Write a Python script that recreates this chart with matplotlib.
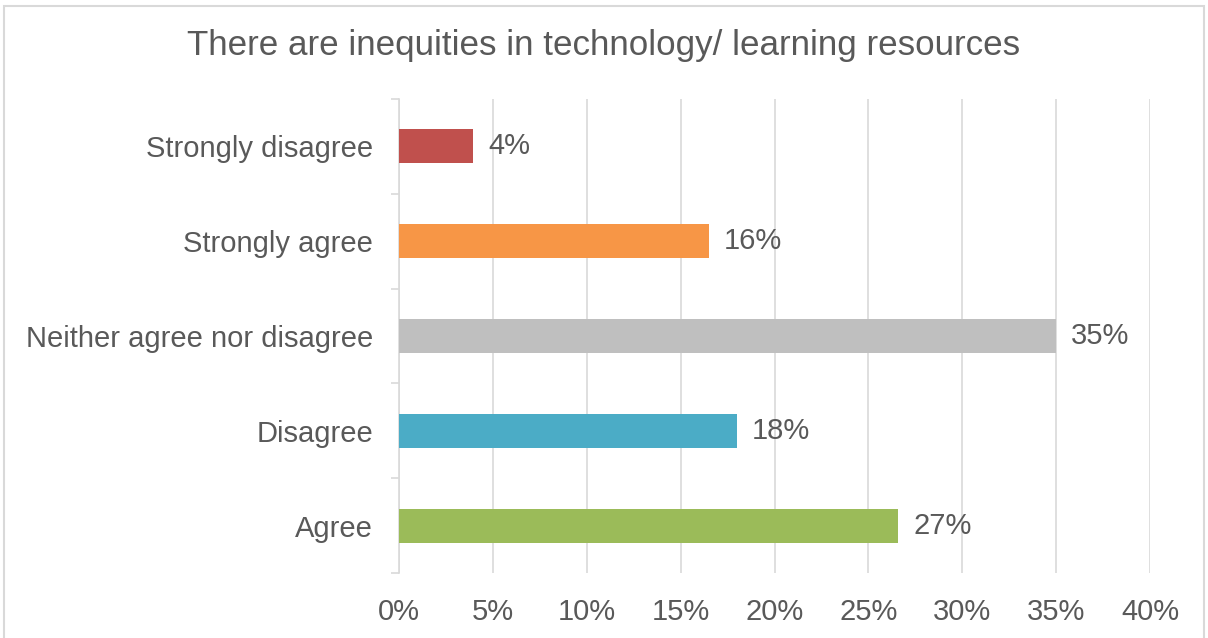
import numpy as np
import matplotlib.pyplot as plt
from matplotlib.ticker import FixedLocator

plt.rcParams['font.family'] = ['Liberation Sans', 'DejaVu Sans']

categories = ['Strongly disagree', 'Strongly agree', 'Neither agree nor disagree', 'Disagree', 'Agree']
values = [3.95, 16.5, 35.0, 18.0, 26.6]
labels = ['4%', '16%', '35%', '18%', '27%']
colors = ['#C0504D', '#F79646', '#BFBFBF', '#4BACC6', '#9BBB59']

txt = '#595959'
grid = '#D9D9D9'
fs = 21

fig = plt.figure(figsize=(12.08, 6.38), dpi=100)
ax = fig.add_axes([0.3303, 0.1019, 0.952 - 0.3303, 0.8448 - 0.1019])

y = np.arange(len(categories))
ax.barh(y, values, height=0.36, color=colors, zorder=3)
for yi, v, lab in zip(y, values, labels):
    ax.text(v + 0.8, yi, lab, va='center', ha='left', fontsize=fs, color=txt)

ax.set_xlim(0, 40)
ax.set_ylim(len(categories) - 0.5, -0.5)
ax.set_xticks(np.arange(0, 41, 5))
ax.set_xticklabels([f'{t}%' for t in range(0, 41, 5)])
ax.set_yticks(y)
ax.set_yticklabels(categories)
ax.yaxis.set_minor_locator(FixedLocator(np.arange(-0.5, len(categories), 1)))

ax.grid(axis='x', color=grid, lw=1.2, zorder=0)
for s in ['top', 'right', 'bottom']:
    ax.spines[s].set_visible(False)
ax.spines['left'].set_color(grid)
ax.spines['left'].set_linewidth(1.2)
ax.tick_params(axis='x', length=0, pad=18, labelsize=fs, labelcolor=txt)
ax.tick_params(axis='y', which='major', length=0, pad=18.5, labelsize=fs, labelcolor=txt)
ax.tick_params(axis='y', which='minor', length=6, color=grid, width=1.2)

fig.text(0.5, 0.928, 'There are inequities in technology/ learning resources',
         ha='center', va='center', fontsize=25.2, color=txt)

# outer frame
fig.patches.append(plt.Rectangle((0.003, -0.01), 0.994, 1.0, transform=fig.transFigure,
                                 fill=False, edgecolor=grid, lw=1.5))

fig.savefig('out.png', dpi=100)
